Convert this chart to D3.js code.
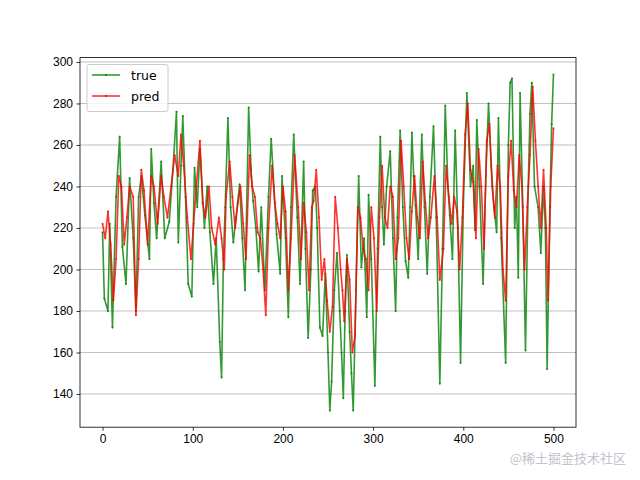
<!DOCTYPE html>
<html><head><meta charset="utf-8">
<script src="https://cdn.jsdelivr.net/npm/d3@7"></script>
<style>body{margin:0;background:#fff}svg{font-family:"DejaVu Sans",sans-serif}</style>
</head><body><svg id="c" width="640" height="480"></svg>
<script>
const trueX=[0,2,6,8,11,15,19,22,26,30,34,37,40,43,47,52,54,57,60,65,69,74,78,82,84,87,89,92,95,99,102,105,108,113,116,119,123,126,130,132,134,136,139,142,145,148,152,155,158,162,165,167,170,173,176,180,184,187,190,193,197,199,203,206,209,212,216,219,223,225,228,231,233,236,238,241,244,247,250,252,254,257,260,263,265,267,269,271,274,276,278,281,284,287,290,293,295,298,302,305,308,310,312,315,319,322,325,327,330,333,336,339,341,343,345,347,350,354,357,360,363,367,370,374,377,380,383,385,388,391,394,397,400,404,408,411,413,415,418,422,425,428,431,434,437,439,442,447,450,452,454,457,459,461,463,466,469,472,474,476,479,483,486,489,491,493,496,498,500];
const trueY=[218,186,180,222,172,235,264,211,193,244,215,180,235,245,226,205,258,232,215,252,215,223,248,276,213,250,274,235,193,187,249,230,258,220,240,218,193,215,165,148,205,230,273,230,213,225,241,215,190,278,245,233,220,199,230,190,235,263,240,217,198,245,215,177,230,265,225,193,252,210,167,200,238,240,220,172,168,198,160,132,146,190,208,180,160,138,180,207,170,150,132,190,245,201,215,177,236,205,144,210,264,230,212,240,257,215,180,225,267,230,204,196,230,266,245,231,205,265,230,198,235,269,225,145,210,279,240,226,205,267,220,155,230,285,240,250,219,272,240,193,245,280,250,230,218,273,215,155,260,290,292,220,235,196,285,230,161,240,275,290,240,230,208,240,220,152,230,270,294];
const predX=[0,3,6,9,12,15,18,21,24,27,30,34,37,40,43,46,50,54,57,61,65,68,72,76,80,84,87,90,94,98,101,104,108,111,114,118,121,125,129,132,135,137,141,144,147,150,153,156,159,163,166,169,172,175,178,181,184,188,191,194,197,200,203,206,209,213,217,220,223,226,229,232,234,237,240,243,246,249,252,255,258,261,264,266,268,271,274,277,280,283,286,289,292,295,298,301,304,307,310,313,316,319,322,325,328,331,334,337,340,343,346,349,352,355,358,361,364,368,371,374,378,381,384,387,390,393,396,399,402,405,408,411,414,417,420,423,426,429,432,435,438,441,444,447,450,453,456,459,462,465,468,471,474,477,480,483,486,489,492,494,497,500];
const predY=[222,215,228,212,185,205,245,240,212,225,240,235,178,205,248,238,212,245,240,222,245,235,225,240,255,245,265,250,225,205,222,240,262,232,225,240,220,212,225,215,200,235,252,235,220,232,240,222,205,255,240,235,218,215,200,178,220,250,232,222,215,240,228,190,215,255,230,205,232,218,190,230,233,248,225,195,205,185,170,182,235,220,200,190,175,205,195,160,168,230,225,210,205,190,230,215,180,225,250,225,220,240,235,205,215,262,240,215,205,228,245,225,215,252,232,215,225,245,225,195,210,250,235,222,235,228,200,225,265,280,248,242,215,258,240,210,262,270,240,225,250,240,200,185,245,262,238,230,255,240,200,230,255,288,262,240,220,248,220,185,240,268];
const yTicks=[140,160,180,200,220,240,260,280,300];
const xTicks=[0,100,200,300,400,500];

const svg=d3.select("#c");
const L=80,R=576,T=57.6,B=427.2;
const x=d3.scaleLinear().domain([-25,525]).range([L,R]);
const y=d3.scaleLinear().domain([124,302.1]).range([B,T]);
svg.append("g").selectAll("line").data(yTicks).join("line")
 .attr("x1",L).attr("x2",R).attr("y1",d=>y(d)).attr("y2",d=>y(d))
 .attr("stroke","#b0b0b0").attr("stroke-width",0.8);
const line=d3.line().x(d=>x(d[0])).y(d=>y(d[1]));
function series(xs,ys,col){
 const pts=xs.map((v,i)=>[v,ys[i]]);
 svg.append("path").datum(pts).attr("d",line).attr("fill","none")
  .attr("stroke",col).attr("stroke-opacity",0.8).attr("stroke-width",1.6).attr("stroke-linejoin","round");
 svg.append("g").selectAll("circle").data(pts).join("circle")
  .attr("cx",d=>x(d[0])).attr("cy",d=>y(d[1])).attr("r",1).attr("fill",col).attr("opacity",0.8);
}
series(trueX,trueY,"green");
series(predX,predY,"red");
const gx=svg.append("g").attr("transform",`translate(0,${B})`).call(d3.axisBottom(x).tickValues(xTicks).tickSize(3.5).tickPadding(3.5));
const gy=svg.append("g").attr("transform",`translate(${L},0)`).call(d3.axisLeft(y).tickValues(yTicks).tickSize(3.5).tickPadding(3.5));
[gx,gy].forEach(g=>{g.selectAll("text").attr("font-size",12).attr("fill","#000");g.select(".domain").remove();g.selectAll("line").attr("stroke","#000").attr("stroke-width",0.8);});
svg.append("rect").attr("x",L).attr("y",T).attr("width",R-L).attr("height",B-T).attr("fill","none").attr("stroke","#000").attr("stroke-width",0.8);
const lg=svg.append("g");
lg.append("rect").attr("x",87).attr("y",64.5).attr("width",81).attr("height",47).attr("rx",2).attr("fill","#fff").attr("fill-opacity",0.8).attr("stroke","#ccc");
[["true","green"],["pred","red"]].forEach((s,i)=>{
 const yy=75+i*21;
 lg.append("line").attr("x1",92).attr("x2",120).attr("y1",yy).attr("y2",yy).attr("stroke",s[1]).attr("stroke-opacity",0.8).attr("stroke-width",1.6);
 lg.append("circle").attr("cx",106).attr("cy",yy).attr("r",1).attr("fill",s[1]);
 lg.append("text").attr("x",131).attr("y",yy+4.5).attr("font-size",12.5).text(s[0]);
});
svg.append("text").attr("x",626).attr("y",463).attr("text-anchor","end").attr("font-size",13).attr("fill","#c0c4cc").attr("font-family","Noto Sans CJK SC").text("@稀土掘金技术社区");
</script></body></html>
